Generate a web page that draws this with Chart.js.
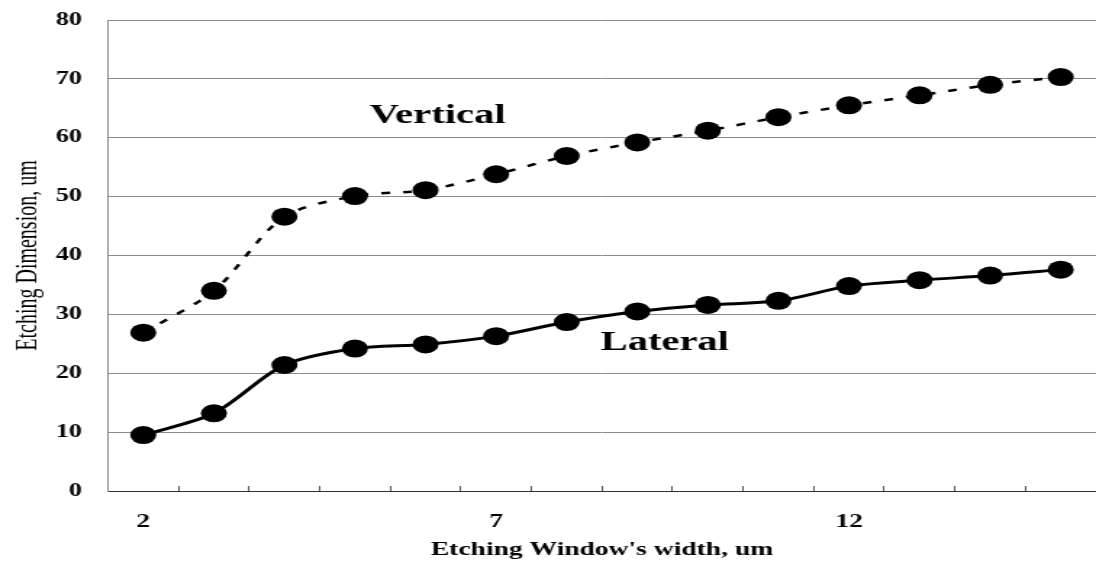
<!DOCTYPE html>
<html>
<head>
<meta charset="utf-8">
<script src="https://cdn.jsdelivr.net/npm/chart.js@4.4.1/dist/chart.umd.min.js"></script>
<style>
  html, body { margin: 0; padding: 0; background: #fff; overflow: hidden; }
  #wrap { width: 1096px; height: 563px; overflow: hidden; position: relative; }
  #c { position: absolute; left: 0; top: 0; transform-origin: 0 0; transform: scaleX(1.4497); }
</style>
</head>
<body>
<div id="wrap"><canvas id="c" width="756" height="563"></canvas></div>
<script>
// Data
const categories = ['2','3','4','5','6','7','8','9','10','11','12','13','14','15'];
const verticalValues = [26.9, 34.0, 46.6, 50.1, 51.1, 53.8, 56.9, 59.2, 61.2, 63.5, 65.5, 67.2, 69.0, 70.3];
const lateralValues  = [9.5, 13.2, 21.4, 24.2, 24.9, 26.3, 28.7, 30.5, 31.6, 32.3, 34.8, 35.8, 36.6, 37.6];
const yTicks = { min: 0, max: 80, step: 10 };
const seriesLabels = [
  { text: 'Vertical', x: 4.17, y: 63.7 },
  { text: 'Lateral',  x: 7.39, y: 25.2 }
];

const serif = '"Liberation Serif", "Times New Roman", serif';

const labelPlugin = {
  id: 'seriesLabels',
  afterDatasetsDraw(chart) {
    const { ctx, scales: { x, y } } = chart;
    ctx.save();
    ctx.font = 'bold 28px ' + serif;
    ctx.fillStyle = '#000';
    ctx.textAlign = 'center';
    ctx.textBaseline = 'middle';
    seriesLabels.forEach(l => ctx.fillText(l.text, x.getPixelForValue(l.x), y.getPixelForValue(l.y)));
    ctx.restore();
  }
};

new Chart(document.getElementById('c'), {
  type: 'line',
  data: {
    labels: categories,
    datasets: [
      {
        label: 'Vertical',
        data: verticalValues,
        borderColor: '#000',
        backgroundColor: '#000',
        borderWidth: 2.5,
        borderDash: [6, 9],
        tension: 0.3,
        pointRadius: 9,
        pointHoverRadius: 9,
        pointBackgroundColor: '#000',
        pointBorderWidth: 0
      },
      {
        label: 'Lateral',
        data: lateralValues,
        borderColor: '#000',
        backgroundColor: '#000',
        borderWidth: 3,
        tension: 0.3,
        pointRadius: 9,
        pointHoverRadius: 9,
        pointBackgroundColor: '#000',
        pointBorderWidth: 0
      }
    ]
  },
  options: {
    responsive: false,
    animation: false,
    devicePixelRatio: 1,
    layout: { autoPadding: false, padding: { top: 20, right: 0, bottom: 0, left: 0 } },
    plugins: {
      legend: { display: false },
      tooltip: { enabled: false }
    },
    scales: {
      x: {
        type: 'category',
        offset: true,
        grid: {
          display: true,
          offset: true,
          drawOnChartArea: false,
          drawTicks: true,
          tickLength: -5,
          color: '#555'
        },
        border: { display: true, color: '#333', width: 1 },
        ticks: {
          autoSkip: false,
          maxRotation: 0,
          padding: 25,
          color: '#000',
          font: { family: serif, size: 19, weight: 'bold' },
          callback: function (val, idx) { return idx % 5 === 0 ? this.getLabelForValue(val) : ''; }
        },
        title: {
          display: true,
          text: "Etching Window's width, um",
          color: '#000',
          font: { family: serif, size: 19, weight: 'bold' },
          padding: { top: 0, bottom: 2 }
        },
        afterFit(scale) {
          scale.height = 72;
          scale.paddingLeft = 0;
          scale.paddingRight = 0;
        }
      },
      y: {
        min: yTicks.min,
        max: yTicks.max,
        grid: { color: '#8a8a8a', lineWidth: 1, drawTicks: false },
        border: { display: true, color: '#8a8a8a', width: 1 },
        ticks: {
          stepSize: yTicks.step,
          padding: 18,
          color: '#000',
          font: { family: serif, size: 18, weight: 'bold' }
        },
        title: {
          display: true,
          text: 'Etching Dimension, um',
          color: '#000',
          font: { family: serif, size: 20, weight: 'normal' },
          padding: { top: 8, bottom: 0 }
        },
        afterFit(scale) {
          scale.width = 74.5;
          scale.paddingTop = 0;
          scale.paddingBottom = 0;
        }
      }
    }
  },
  plugins: [labelPlugin]
});
</script>
</body>
</html>
